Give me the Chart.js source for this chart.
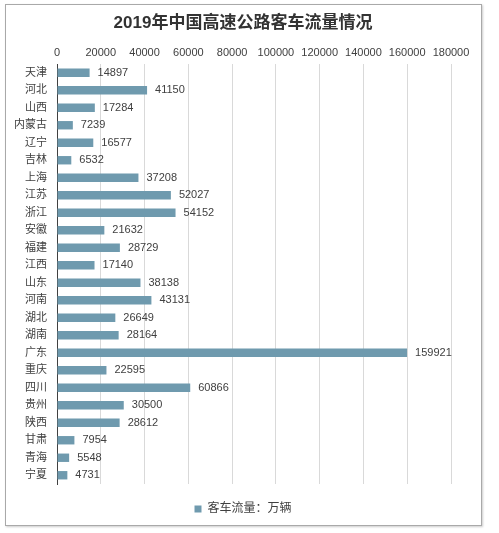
<!DOCTYPE html>
<html>
<head>
<meta charset="utf-8">
<script src="https://cdn.jsdelivr.net/npm/chart.js@4"></script>
<style>
  html, body { margin: 0; padding: 0; background: #fff; }
  #wrap { position: relative; width: 499px; height: 533px; }
  #frame { position: absolute; left: 5px; top: 4px; width: 475px; height: 520px;
           border: 1px solid #a9a9a9; box-shadow: 1px 1px 2px #ccc; }
  #myChart { position: absolute; left: 0; top: 0; }
</style>
</head>
<body>
<div id="wrap">
  <div id="frame"></div>
  <canvas id="myChart" width="499" height="533"></canvas>
</div>
<script>
// 2019年中国高速公路客车流量（万辆）
const provinces = ["天津", "河北", "山西", "内蒙古", "辽宁", "吉林", "上海", "江苏", "浙江", "安徽",
  "福建", "江西", "山东", "河南", "湖北", "湖南", "广东", "重庆", "四川", "贵州",
  "陕西", "甘肃", "青海", "宁夏"];
const traffic = [14897, 41150, 17284, 7239, 16577, 6532, 37208, 52027, 54152, 21632,
  28729, 17140, 38138, 43131, 26649, 28164, 159921, 22595, 60866, 30500,
  28612, 7954, 5548, 4731];
const xTicks = [0, 20000, 40000, 60000, 80000, 100000, 120000, 140000, 160000, 180000];
const chartTitle = "2019年中国高速公路客车流量情况";

const fontFam = "'Liberation Sans', 'Noto Sans CJK SC', sans-serif";
const barColor = "#6f9aae";

// value text at the end of each bar + title
const extras = {
  id: "extras",
  afterDatasetsDraw(chart) {
    const ctx = chart.ctx;
    ctx.save();
    ctx.font = "11px " + fontFam;
    ctx.fillStyle = "#404040";
    ctx.textBaseline = "middle";
    chart.getDatasetMeta(0).data.forEach((bar, i) => {
      ctx.fillText(traffic[i], bar.x + 8, bar.y);
    });
    ctx.font = "bold 17px " + fontFam;
    ctx.fillStyle = "#333";
    ctx.textAlign = "center";
    ctx.fillText(chartTitle, 243, 23);
    ctx.restore();
  }
};

const ctx = document.getElementById("myChart").getContext("2d");
const myChart = new Chart(ctx, {
  type: "bar",
  data: {
    labels: provinces,
    datasets: [{
      label: "客车流量：万辆",
      data: traffic,
      backgroundColor: barColor,
      categoryPercentage: 1,
      barPercentage: 0.48
    }]
  },
  plugins: [extras],
  options: {
    indexAxis: "y",
    responsive: false,
    devicePixelRatio: 1,
    animation: false,
    layout: { padding: { left: 5, right: 18, top: 41, bottom: 8 } },
    plugins: {
      legend: {
        position: "bottom",
        labels: {
          boxWidth: 7,
          boxHeight: 7,
          color: "#404040",
          font: { family: fontFam, size: 12 },
          padding: 19
        }
      },
      tooltip: { enabled: false }
    },
    scales: {
      x: {
        position: "top",
        min: 0,
        max: 180000,
        afterBuildTicks: (s) => { s.ticks = xTicks.map(v => ({ value: v })); },
        afterFit: (s) => { s.height = 23; },
        grid: { color: "#d9d9d9", drawTicks: false },
        border: { display: false },
        ticks: {
          color: "#404040",
          padding: 4,
          maxRotation: 0,
          autoSkip: false,
          font: { family: fontFam, size: 11 },
          callback: (v) => String(v)
        }
      },
      y: {
        afterFit: (s) => { s.width = 52; },
        grid: { display: false },
        border: { display: true, color: "#404040", width: 1 },
        ticks: {
          color: "#404040",
          padding: 2,
          autoSkip: false,
          font: { family: fontFam, size: 11 }
        }
      },
      // empty right-hand strip, keeps the plot narrower than the frame
      spacer: {
        type: "linear",
        axis: "y",
        position: "right",
        afterFit: (s) => { s.width = 30; },
        grid: { display: false },
        border: { display: false },
        ticks: { display: false }
      }
    }
  }
});
</script>
</body>
</html>
